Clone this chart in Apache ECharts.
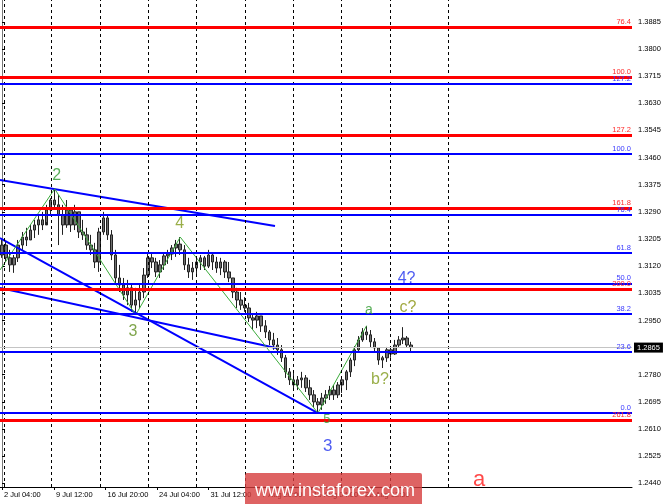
<!DOCTYPE html>
<html><head><meta charset="utf-8">
<script src="https://cdn.jsdelivr.net/npm/echarts@6/dist/echarts.min.js"></script>
<style>html,body{margin:0;padding:0;background:#fff}#c{width:665px;height:504px}</style>
</head><body><div id="c"></div>
<script>
// ---- price bars (GBP/USD), one bar per slot ----
const open = [1.3155,1.3186,1.3146,1.3124,1.3146,1.3186,1.3211,1.3202,1.3233,1.3249,
1.3265,1.3249,1.3296,1.3327,1.3312,1.3280,1.3249,1.3296,1.3249,1.3290,
1.3227,1.3218,1.3186,1.3171,1.3133,1.3227,1.3271,1.3218,1.3155,1.3083,
1.3061,1.3030,1.3052,1.2998,1.3014,1.3039,1.3092,1.3146,1.3133,1.3102,
1.3124,1.3152,1.3158,1.3177,1.3189,1.3171,1.3124,1.3102,1.3114,1.3133,
1.3146,1.3120,1.3155,1.3133,1.3114,1.3133,1.3102,1.3083,1.3039,1.3014,
1.2998,1.2989,1.2958,1.2951,1.2964,1.2933,1.2914,1.2889,1.2873,1.2858,
1.2833,1.2789,1.2764,1.2748,1.2764,1.2770,1.2739,1.2717,1.2695,1.2686,
1.2707,1.2717,1.2732,1.2717,1.2748,1.2764,1.2789,1.2826,1.2858,1.2889,
1.2914,1.2905,1.2883,1.2864,1.2826,1.2833,1.2858,1.2845,1.2873,1.2889,
1.2895,1.2873];
const close = [1.3186,1.3146,1.3124,1.3146,1.3186,1.3211,1.3202,1.3233,1.3249,1.3265,
1.3249,1.3296,1.3327,1.3312,1.3280,1.3249,1.3296,1.3249,1.3290,1.3227,
1.3218,1.3186,1.3171,1.3133,1.3227,1.3271,1.3218,1.3155,1.3083,1.3061,
1.3030,1.3052,1.2998,1.3014,1.3039,1.3092,1.3146,1.3133,1.3102,1.3124,
1.3152,1.3158,1.3177,1.3189,1.3171,1.3124,1.3102,1.3114,1.3133,1.3146,
1.3120,1.3155,1.3133,1.3114,1.3133,1.3102,1.3083,1.3039,1.3014,1.2998,
1.2989,1.2958,1.2951,1.2964,1.2933,1.2914,1.2889,1.2873,1.2858,1.2833,
1.2789,1.2764,1.2748,1.2764,1.2770,1.2739,1.2717,1.2695,1.2686,1.2707,
1.2717,1.2732,1.2717,1.2748,1.2764,1.2789,1.2826,1.2858,1.2889,1.2914,
1.2905,1.2883,1.2864,1.2826,1.2833,1.2858,1.2845,1.2873,1.2889,1.2895,
1.2873,1.2865];
const high = [1.3208,1.3196,1.3171,1.3155,1.3202,1.3227,1.3240,1.3249,1.3265,1.3280,
1.3290,1.3312,1.3333,1.3362,1.3343,1.3312,1.3327,1.3302,1.3312,1.3290,
1.3265,1.3240,1.3218,1.3193,1.3240,1.3290,1.3280,1.3233,1.3171,1.3124,
1.3083,1.3077,1.3061,1.3052,1.3061,1.3114,1.3161,1.3164,1.3146,1.3139,
1.3164,1.3171,1.3186,1.3202,1.3211,1.3186,1.3146,1.3133,1.3146,1.3155,
1.3152,1.3171,1.3164,1.3149,1.3146,1.3139,1.3133,1.3083,1.3052,1.3039,
1.3023,1.3005,1.2970,1.2977,1.2964,1.2951,1.2920,1.2911,1.2895,1.2873,
1.2842,1.2801,1.2789,1.2776,1.2789,1.2779,1.2764,1.2732,1.2707,1.2723,
1.2732,1.2745,1.2748,1.2757,1.2770,1.2795,1.2833,1.2870,1.2901,1.2926,
1.2933,1.2920,1.2895,1.2864,1.2839,1.2867,1.2870,1.2889,1.2901,1.2929,
1.2901,1.2883];
const low = [1.3146,1.3133,1.3102,1.3099,1.3133,1.3171,1.3183,1.3202,1.3208,1.3218,
1.3233,1.3258,1.3280,1.3296,1.3186,1.3218,1.3240,1.3227,1.3233,1.3208,
1.3202,1.3171,1.3155,1.3114,1.3102,1.3218,1.3202,1.3139,1.3061,1.3039,
1.3014,1.2998,1.2977,1.2967,1.2989,1.3020,1.3083,1.3114,1.3086,1.3083,
1.3108,1.3127,1.3139,1.3149,1.3155,1.3108,1.3083,1.3077,1.3095,1.3108,
1.3108,1.3114,1.3108,1.3099,1.3092,1.3083,1.3070,1.3020,1.2989,1.2983,
1.2977,1.2945,1.2920,1.2926,1.2914,1.2895,1.2873,1.2858,1.2842,1.2820,
1.2770,1.2748,1.2732,1.2732,1.2739,1.2726,1.2701,1.2679,1.2660,1.2670,
1.2689,1.2701,1.2701,1.2707,1.2723,1.2732,1.2773,1.2807,1.2851,1.2883,
1.2889,1.2864,1.2851,1.2811,1.2801,1.2820,1.2833,1.2842,1.2864,1.2876,
1.2864,1.2851];
const lastClose = 1.2865;

// ---- axes ----
const yTicks = [1.2440,1.2525,1.2610,1.2695,1.2780,1.2865,1.2950,1.3035,1.3120,1.3205,
1.3290,1.3375,1.3460,1.3545,1.3630,1.3715,1.3800,1.3885];
const timeLabels = ['2 Jul 04:00','9 Jul 12:00','16 Jul 20:00','24 Jul 04:00','31 Jul 12:00','7 Aug 20:00','15 Aug 04:00','22 Aug 12:00'];
const timeLabelPos = [0, 12.83, 25.54, 38.26, 50.97, 63.69, 76.4, 89.12];
const gridLinePos = [0.49, 12.27, 24.19, 36.12, 48.07, 60.0, 71.92, 83.87, 95.8, 110.19];

// ---- Fibonacci levels ----
const redFibLevels = ['76.4','100.0','127.2','161.8','200.0','261.8'];
const redFibPrices = [1.3868,1.3711,1.3531,1.3301,1.3048,1.2637];
const blueFibLevels = ['127.2','100.0','76.4','61.8','50.0','38.2','23.6','0.0'];
const blueFibPrices = [1.3691,1.3471,1.3280,1.3162,1.3066,1.2971,1.2852,1.2661];

// ---- wave zigzag & trend lines ----
const zigzagX = [-0.5, 13, 33, 44, 78, 90];
const zigzagY = [1.3108, 1.3362, 1.2967, 1.3211, 1.2660, 1.2933];
const trend1X = [-0.5, 67.4],  trend1Y = [1.3390, 1.3246];
const trend2X = [-0.5, 78],    trend2Y = [1.3208, 1.2660];
const trend3X = [-0.5, 67.65], trend3Y = [1.3052, 1.2864];

// ---- wave labels ----
const labelText  = ['2','3','4','5','a','b?','c?','4?','3','a'];
const labelIdx   = [13.5, 32.3, 43.9, 80.2, 90.6, 93.3, 100.2, 99.9, 80.4, 117.8];
const labelPrice = [1.3405, 1.2915, 1.3252, 1.2640, 1.2981, 1.2764, 1.2989, 1.3082, 1.2555, 1.2451];

// styles (kept apart from data)
const labelColors = ['#2e9a2e','#5f8f1f','#7f9a1a','#2e9a2e','#2e9a2e','#7f9a1a','#8a9410','#2233ee','#2233ee','#ff1a1a'];
const labelSizes  = [16,16,16,13,14,16,16,16,17,22];
const FONT = '"Liberation Sans", Arial, sans-serif';

const chart = echarts.init(document.getElementById('c'), null, {renderer: 'canvas'});

const candleData = open.map((o, i) => [i, o, close[i], low[i], high[i]]);
const pairs = (xs, ys) => xs.map((x, i) => [x, ys[i]]);

const fibMarks = [];
redFibPrices.forEach((p, i) => fibMarks.push({
  yAxis: p, lineStyle: {color: '#ff0000', width: 3, type: 'solid'},
  label: {show: true, formatter: redFibLevels[i], color: '#ff2a2a'}
}));
blueFibPrices.forEach((p, i) => fibMarks.push({
  yAxis: p, lineStyle: {color: '#0000ff', width: 2, type: 'solid'},
  label: {show: true, formatter: blueFibLevels[i], color: '#3a3aff'}
}));

const option = {
  animation: false,
  backgroundColor: '#ffffff',
  grid: {left: 0, top: 0, right: 33, bottom: 17, containLabel: false},
  xAxis: {
    type: 'value', min: -0.5, max: 155.55,
    axisLine: {show: true, lineStyle: {color: '#000', width: 1}},
    axisTick: {show: true, customValues: timeLabelPos, length: 3, lineStyle: {color: '#000'}},
    axisLabel: {
      show: true, customValues: timeLabelPos, align: 'left', margin: 4,
      fontSize: 7.5, fontFamily: FONT, color: '#000', padding: [0, 0, 0, 2],
      formatter: v => {
        const k = timeLabelPos.findIndex(t => Math.abs(t - v) < 1e-6);
        return k >= 0 ? timeLabels[k] : '';
      }
    },
    splitLine: {show: false}
  },
  yAxis: {
    type: 'value', position: 'right', min: 1.24285, max: 1.39533, scale: true,
    axisLine: {show: true, lineStyle: {color: '#777', width: 1}},
    axisTick: {show: true, customValues: yTicks, length: 3, lineStyle: {color: '#000'}},
    axisLabel: {
      show: true, customValues: yTicks, margin: 6, fontSize: 7.5, fontFamily: FONT, color: '#000',
      formatter: v => Math.abs(v - lastClose) < 1e-6 ? '' : v.toFixed(4)
    },
    splitLine: {show: false}
  },
  graphic: [
    {type: 'rect', z: 100, zlevel: 2, shape: {x: 245, y: 473, width: 177, height: 40, r: 2},
     style: {fill: 'rgba(214,60,60,0.8)'}},
    {type: 'text', z: 101, zlevel: 2, x: 255, y: 491,
     style: {text: 'www.instaforex.com', fill: '#ffffff', fontSize: 18, fontFamily: FONT, verticalAlign: 'middle'}}
  ],
  series: [
    {
      name: 'grid', type: 'line', data: [], z: 1, silent: true,
      markLine: {
        silent: true, symbol: 'none', animation: false, precision: 4,
        lineStyle: {color: '#000', width: 1, type: [3, 3]},
        label: {show: false},
        data: gridLinePos.map(v => ({xAxis: v}))
      }
    },
    {
      name: 'GBPUSD', type: 'candlestick', z: 2,
      encode: {x: 0, y: [1, 2, 3, 4]},
      data: candleData, barWidth: 3,
      itemStyle: {color: '#707070', color0: '#707070', borderColor: '#222', borderColor0: '#222', borderWidth: 1}
    },
    {
      name: 'fib', type: 'line', data: [], z: 3, silent: true,
      markLine: {
        silent: true, symbol: 'none', animation: false, precision: 5,
        label: {position: 'insideEndTop', fontSize: 7.5, fontFamily: FONT, distance: [1, 1]},
        data: fibMarks.concat([{
          yAxis: lastClose, lineStyle: {color: '#c4c4c4', width: 1, type: 'solid'},
          label: {show: true, position: 'end', formatter: lastClose.toFixed(4), color: '#fff',
                  backgroundColor: '#000', padding: [1, 3, 1, 3], distance: 2, fontSize: 7.5, fontFamily: FONT}
        }])
      }
    },
    {type: 'line', data: pairs(trend1X, trend1Y), symbol: 'none', z: 4, lineStyle: {color: '#0000ff', width: 2}},
    {type: 'line', data: pairs(trend2X, trend2Y), symbol: 'none', z: 4, lineStyle: {color: '#0000ff', width: 2}},
    {type: 'line', data: pairs(trend3X, trend3Y), symbol: 'none', z: 4, lineStyle: {color: '#0000ff', width: 2}},
    {type: 'line', data: pairs(zigzagX, zigzagY), symbol: 'none', z: 4, lineStyle: {color: '#3cab3c', width: 1}},
    {
      type: 'scatter', z: 20, zlevel: 1, symbolSize: 0, silent: true,
      data: labelText.map((t, i) => ({
        value: [labelIdx[i], labelPrice[i]], name: t,
        label: {color: labelColors[i], fontSize: labelSizes[i]}
      })),
      label: {show: true, position: 'inside', formatter: p => p.name, fontFamily: FONT},
      labelLayout: {hideOverlap: false}
    }
  ]
};
chart.setOption(option);
</script>
</body></html>
